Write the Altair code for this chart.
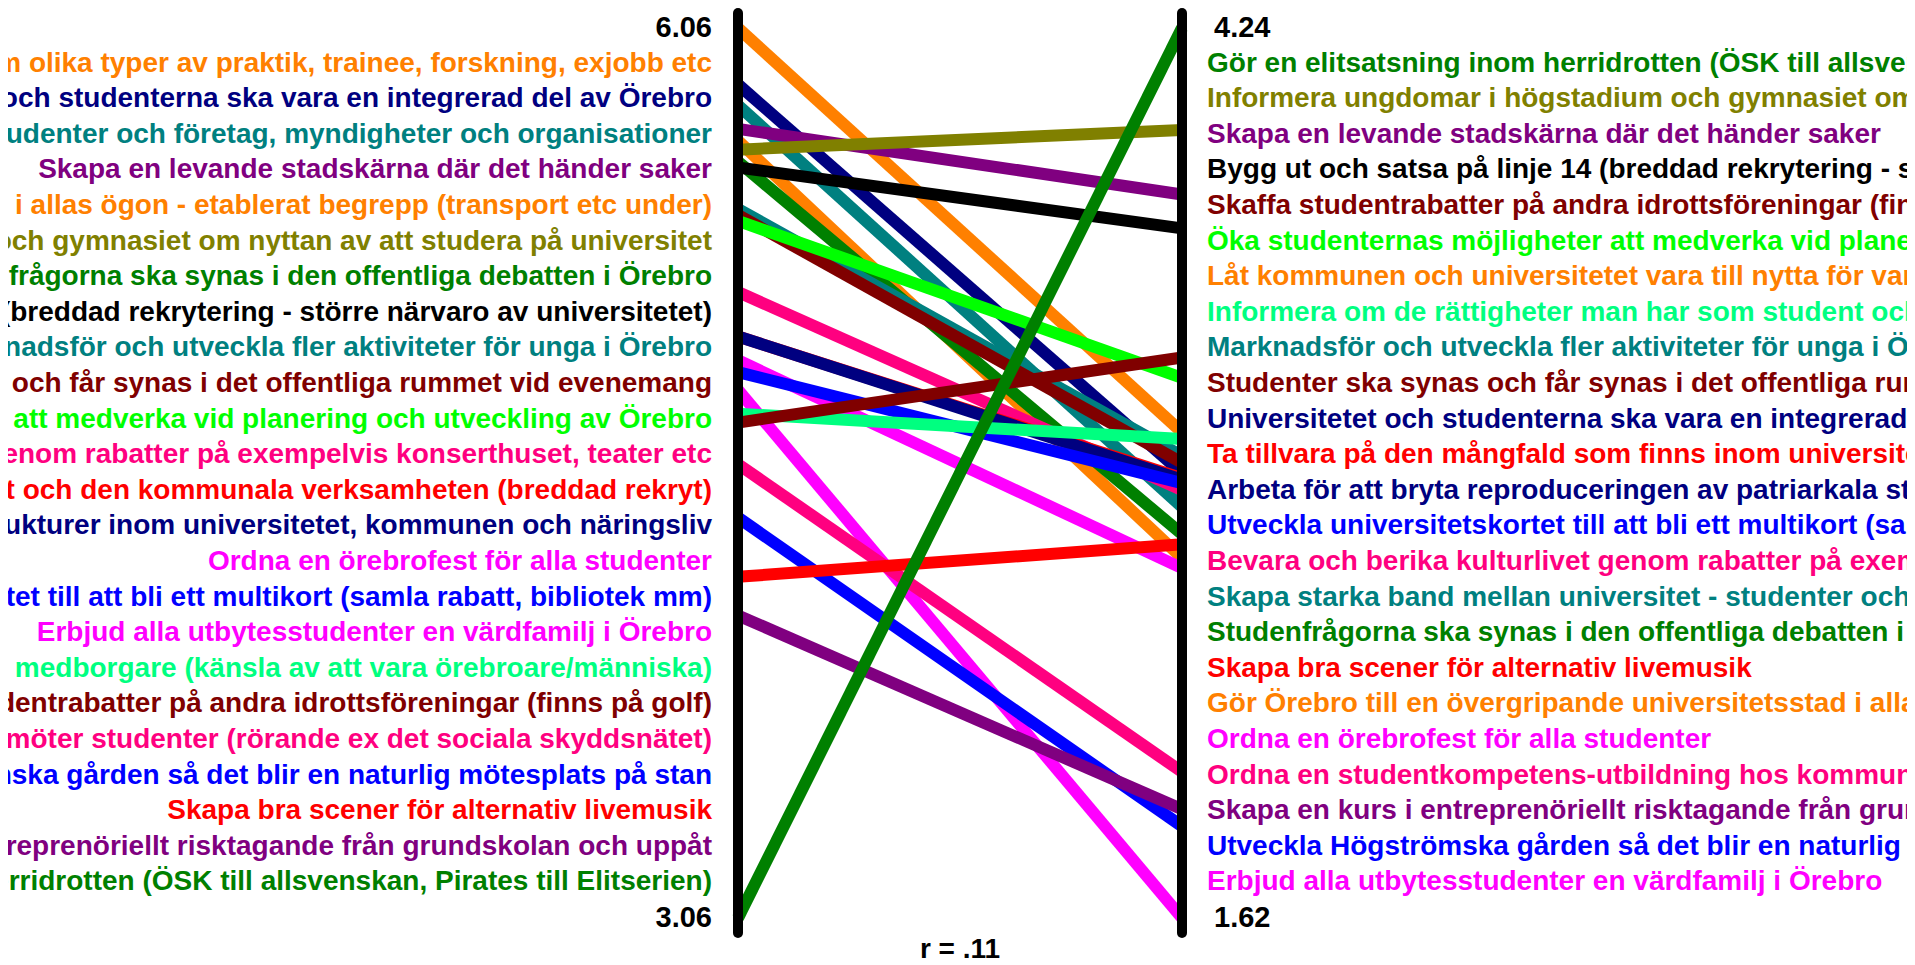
import altair as alt
import pandas as pd

# ---------------- data ----------------
items = [
    "Låt kommunen och universitetet vara till nytta för varandra genom olika typer av praktik, trainee, forskning, exjobb etc",
    "Universitetet och studenterna ska vara en integrerad del av Örebro",
    "Skapa starka band mellan universitet - studenter och företag,  myndigheter och organisationer",
    "Skapa en levande stadskärna där det händer saker",
    "Gör Örebro till en övergripande universitetsstad i allas ögon - etablerat begrepp (transport etc under)",
    "Informera ungdomar i högstadium och gymnasiet om nyttan av att studera på universitet",
    "Studenfrågorna ska synas i den offentliga debatten i Örebro",
    "Bygg ut och satsa på linje 14 (breddad rekrytering - större närvaro av universitetet)",
    "Marknadsför och utveckla fler aktiviteter för unga i Örebro",
    "Studenter ska synas och får synas i det offentliga rummet vid evenemang",
    "Öka studenternas möjligheter att medverka vid planering och utveckling av Örebro",
    "Bevara och berika kulturlivet genom rabatter på exempelvis konserthuset, teater etc",
    "Ta tillvara på den mångfald som finns inom universitetet och den kommunala verksamheten (breddad rekryt)",
    "Arbeta för att bryta reproduceringen av patriarkala strukturer inom universitetet, kommunen och näringsliv",
    "Ordna en örebrofest för alla studenter",
    "Utveckla universitetskortet till att bli ett multikort (samla rabatt, bibliotek mm)",
    "Erbjud alla utbytesstudenter en värdfamilj i Örebro",
    "Informera om de rättigheter man har som student och medborgare (känsla av att vara örebroare/människa)",
    "Skaffa studentrabatter på andra idrottsföreningar (finns på golf)",
    "Ordna en studentkompetens-utbildning hos kommunen för de som möter studenter (rörande ex det sociala skyddsnätet)",
    "Utveckla Högströmska gården så det blir en naturlig mötesplats på stan",
    "Skapa bra scener för alternativ livemusik",
    "Skapa en kurs i entreprenöriellt risktagande från grundskolan och uppåt",
    "Gör en elitsatsning inom herridrotten (ÖSK till allsvenskan, Pirates till Elitserien)",
]

left_values = [6.06, 5.87, 5.80, 5.72, 5.68, 5.65, 5.61, 5.59, 5.45, 5.43, 5.41, 5.17,
               5.02, 5.02, 4.94, 4.90, 4.84, 4.76, 4.73, 4.59, 4.41, 4.21, 4.08, 3.06]
right_values = [3.05, 2.93, 2.83, 3.75, 2.68, 3.94, 2.75, 3.65, 2.98, 2.96, 3.21, 2.88,
                2.915, 2.91, 2.65, 2.90, 1.62, 3.03, 3.27, 2.05, 1.89, 2.72, 1.94, 4.24]

left_ticks = [3.06, 6.06]
right_ticks = [1.62, 4.24]
r_label = "r = .11"

# palette (style)
colors = ["#FF8000", "#000080", "#008080", "#800080", "#FF8000", "#808000", "#008000",
          "#000000", "#008080", "#800000", "#00FF00", "#FF0080", "#FF0000", "#000080",
          "#FF00FF", "#0000FF", "#FF00FF", "#00FF80", "#800000", "#FF0080", "#0000FF",
          "#FF0000", "#800080", "#008000"]

# ---------------- tables ----------------
L_MIN, L_MAX = min(left_ticks), max(left_ticks)
R_MIN, R_MAX = min(right_ticks), max(right_ticks)
n = len(items)
slots = n + 1

df = pd.DataFrame({"item": items, "left": left_values, "right": right_values})
df["ln"] = (df["left"] - L_MIN) / (L_MAX - L_MIN)
df["rn"] = (df["right"] - R_MIN) / (R_MAX - R_MIN)
df["xl"] = 0.0
df["xr"] = 1.0
df["lrank"] = df["left"].rank(ascending=False, method="first")
df["rrank"] = df["right"].rank(ascending=False, method="first")
segs = df.sort_values("lrank", ascending=True)  # drawn in left-rank order

left_lab = pd.DataFrame({"item": df["item"], "text": df["item"],
                         "pos": 1 - df["lrank"] / slots, "side": 0.0})
right_lab = pd.DataFrame({"item": df["item"], "text": df["item"],
                          "pos": 1 - df["rrank"] / slots, "side": 1.0})

left_tick_df = pd.DataFrame({"text": [f"{v:.2f}" for v in left_ticks],
                             "pos": [(v - L_MIN) / (L_MAX - L_MIN) for v in left_ticks],
                             "side": 0.0})
right_tick_df = pd.DataFrame({"text": [f"{v:.2f}" for v in right_ticks],
                              "pos": [(v - R_MIN) / (R_MAX - R_MIN) for v in right_ticks],
                              "side": 1.0})
axes_df = pd.DataFrame({"side": [0.0, 1.0]})
r_df = pd.DataFrame({"text": [r_label], "side": [0.5]})

# ---------------- scales ----------------
xs = alt.Scale(domain=[0, 1], range=[730, 1174])
ys = alt.Scale(domain=[0, 1], range=[910, 20])
cs = alt.Scale(domain=items, range=colors)
FONT = "Liberation Sans"
LABEL_SIZE = 28
TICK_SIZE = 29

lines = alt.Chart(segs).mark_rule(strokeWidth=12, strokeCap="butt").encode(
    x=alt.X("xl:Q", scale=xs, axis=None),
    x2="xr:Q",
    y=alt.Y("ln:Q", scale=ys, axis=None),
    y2="rn:Q",
    color=alt.Color("item:N", scale=cs, legend=None),
)

axes = alt.Chart(axes_df).mark_rule(strokeWidth=10, strokeCap="round", color="black").encode(
    x=alt.X("side:Q", scale=xs, axis=None),
    y=alt.value(5),
    y2=alt.value(925),
)

ltext = alt.Chart(left_lab).mark_text(
    align="right", baseline="middle", dx=-26, font=FONT, fontWeight="bold", fontSize=LABEL_SIZE
).encode(
    x=alt.X("side:Q", scale=xs, axis=None),
    y=alt.Y("pos:Q", scale=ys, axis=None),
    text="text:N",
    color=alt.Color("item:N", scale=cs, legend=None),
)

rtext = alt.Chart(right_lab).mark_text(
    align="left", baseline="middle", dx=25, font=FONT, fontWeight="bold", fontSize=LABEL_SIZE
).encode(
    x=alt.X("side:Q", scale=xs, axis=None),
    y=alt.Y("pos:Q", scale=ys, axis=None),
    text="text:N",
    color=alt.Color("item:N", scale=cs, legend=None),
)

lticks = alt.Chart(left_tick_df).mark_text(
    align="right", baseline="middle", dx=-26, font=FONT, fontWeight="bold", fontSize=TICK_SIZE, color="black"
).encode(
    x=alt.X("side:Q", scale=xs, axis=None),
    y=alt.Y("pos:Q", scale=ys, axis=None),
    text="text:N",
)

rticks = alt.Chart(right_tick_df).mark_text(
    align="left", baseline="middle", dx=32, font=FONT, fontWeight="bold", fontSize=TICK_SIZE, color="black"
).encode(
    x=alt.X("side:Q", scale=xs, axis=None),
    y=alt.Y("pos:Q", scale=ys, axis=None),
    text="text:N",
)

rtxt = alt.Chart(r_df).mark_text(
    align="center", baseline="middle", font=FONT, fontWeight="bold", fontSize=28, color="black"
).encode(
    x=alt.X("side:Q", scale=xs, axis=None),
    y=alt.value(942),
    text="text:N",
)

chart = alt.layer(lines, axes, ltext, rtext, lticks, rticks, rtxt).properties(
    width=1899, height=957, padding=0, autosize="none", background="white"
).configure_view(stroke=None)

chart.save("out.html", embed_options={"renderer": "svg", "actions": False})
